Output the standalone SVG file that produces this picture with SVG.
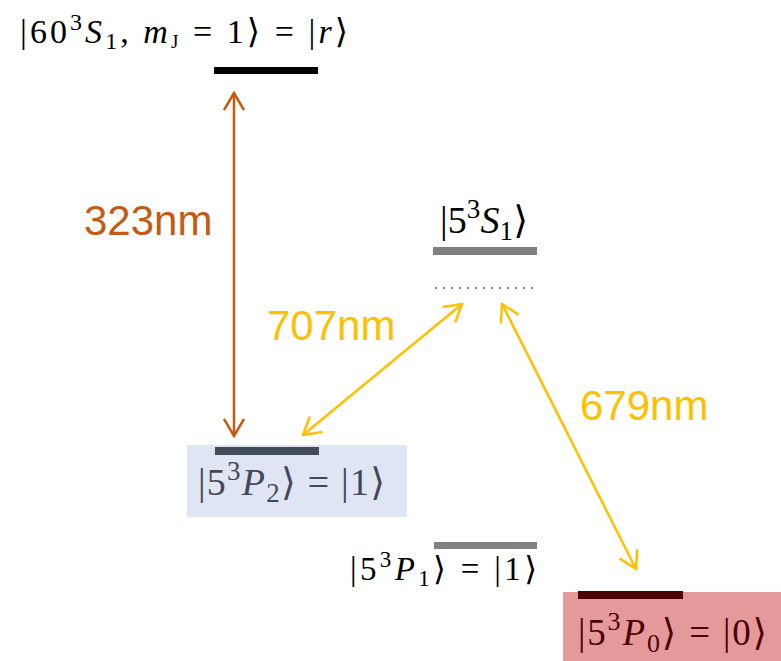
<svg xmlns="http://www.w3.org/2000/svg" width="781" height="661" viewBox="0 0 781 661">
<defs>
<style>
.m{font-family:"Liberation Serif","DejaVu Serif",serif;}
.i{font-style:italic;}
.lbl{font-family:"Liberation Sans",Arial,sans-serif;font-size:42px;}
.arr{stroke-width:2.5;fill:none;}
</style>
<marker id="ao" viewBox="0 0 20 22" refX="18" refY="11" markerWidth="20" markerHeight="22" markerUnits="userSpaceOnUse" orient="auto-start-reverse">
<path d="M1,1 L18,11 L1,21" fill="none" stroke="#C55A11" stroke-width="2.5"/>
</marker>
<marker id="ay" viewBox="0 0 20 22" refX="18" refY="11" markerWidth="20" markerHeight="22" markerUnits="userSpaceOnUse" orient="auto-start-reverse">
<path d="M1,1 L18,11 L1,21" fill="none" stroke="#FFC000" stroke-width="2.5"/>
</marker>
</defs>
<rect width="781" height="661" fill="#fff"/>

<g id="state-r">
<rect x="214" y="67" width="104" height="7" fill="#000"/>
<text class="m" x="20" y="43" font-size="34" textLength="328" lengthAdjust="spacing">|60<tspan dy="-13" font-size="24">3</tspan><tspan dy="13" class="i">S</tspan><tspan dy="6" font-size="24">1</tspan><tspan dy="-6">, </tspan><tspan class="i">m</tspan><tspan dy="5" font-size="19">J</tspan><tspan dy="-5"> = 1⟩ = |</tspan><tspan class="i">r</tspan>⟩</text>
</g>

<g id="state-5S1">
<rect x="433" y="247" width="104" height="8" fill="#808080"/>
<line x1="435" y1="288" x2="537" y2="288" stroke="#808080" stroke-width="2" stroke-dasharray="2 6"/>
<text class="m" x="440" y="233" font-size="38" textLength="88" lengthAdjust="spacing">|5<tspan dy="-15" font-size="27">3</tspan><tspan dy="15" class="i">S</tspan><tspan dy="7" font-size="27">1</tspan><tspan dy="-7">⟩</tspan></text>
</g>

<g id="state-5P2">
<rect x="187" y="445" width="220" height="72" fill="#DFE5F3"/>
<rect x="215" y="447" width="104" height="8" fill="#444B59"/>
<text class="m" x="198" y="495" font-size="38" fill="#44495A" textLength="187" lengthAdjust="spacing">|5<tspan dy="-15" font-size="27">3</tspan><tspan dy="15" class="i">P</tspan><tspan dy="7" font-size="27">2</tspan><tspan dy="-7">⟩ = |1⟩</tspan></text>
</g>

<g id="state-5P1">
<rect x="434" y="542" width="103" height="7" fill="#808080"/>
<text class="m" x="350" y="580" font-size="33" textLength="187" lengthAdjust="spacing">|5<tspan dy="-13" font-size="23">3</tspan><tspan dy="13" class="i">P</tspan><tspan dy="6" font-size="23">1</tspan><tspan dy="-6">⟩ = |1⟩</tspan></text>
</g>

<g id="state-5P0">
<rect x="563" y="592" width="218" height="69" fill="#E6999B"/>
<rect x="578" y="591" width="105" height="8" fill="#4B0000"/>
<text class="m" x="578" y="645" font-size="37" fill="#4B0000" textLength="189" lengthAdjust="spacing">|5<tspan dy="-15" font-size="26">3</tspan><tspan dy="15" class="i">P</tspan><tspan dy="7" font-size="26">0</tspan><tspan dy="-7">⟩ = |0⟩</tspan></text>
</g>

<g id="connectors">
<line class="arr" x1="234" y1="93" x2="234" y2="436" stroke="#C55A11" marker-start="url(#ao)" marker-end="url(#ao)"/>
<line class="arr" x1="303" y1="435" x2="462" y2="304" stroke="#FFC000" marker-start="url(#ay)" marker-end="url(#ay)"/>
<line class="arr" x1="502" y1="304" x2="636" y2="569" stroke="#FFC000" marker-start="url(#ay)" marker-end="url(#ay)"/>
<text class="lbl" x="84" y="235" fill="#C55A11">323nm</text>
<text class="lbl" x="267" y="340" fill="#FFC000">707nm</text>
<text class="lbl" x="580" y="420" fill="#FFC000">679nm</text>
</g>
</svg>
